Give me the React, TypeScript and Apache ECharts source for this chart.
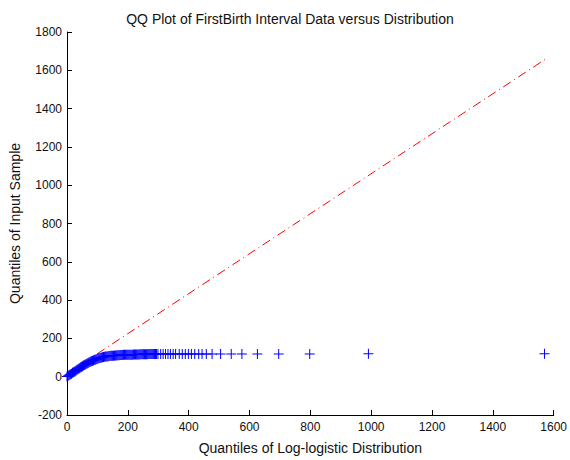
import React, { useEffect, useRef } from "react";
import * as echarts from "echarts";

const titleText = "QQ Plot of FirstBirth Interval Data versus Distribution";
const xAxisName = "Quantiles of Log-logistic Distribution";
const yAxisName = "Quantiles of Input Sample";

// Dense part of the QQ points (x: log-logistic quantiles, y: sample quantiles)
const denseX = [
  0, 3, 6, 9, 12, 15, 18, 21, 24, 27, 30, 33, 36, 39, 42, 45, 48, 51, 54, 57,
  60, 63, 66, 69, 72, 75, 78, 81, 84, 87, 90, 93, 96, 99, 102, 105, 108, 111, 114, 117,
  120, 123, 126, 129, 132, 135, 138, 141, 144, 147, 150, 153, 156, 159, 162, 165, 168, 171, 174, 177,
  180, 183, 186, 189, 192, 195, 198, 201, 204, 207, 210, 213, 216, 219, 222, 225, 228, 231, 234, 237,
  240, 243, 246, 249, 252, 255, 258, 261, 264, 267, 270, 273, 276, 279, 282, 285, 288, 291, 294,
];
const denseY = [
  1, 4, 7, 10, 13, 16, 20, 23, 26, 29, 33, 36, 39, 42, 46, 49, 52, 55, 58, 61,
  64, 66, 69, 72, 74, 77, 79, 81, 83, 85, 88, 89, 91, 93, 95, 96, 98, 99, 100, 102,
  103, 104, 105, 106, 106, 107, 108, 108, 109, 109, 110, 110, 111, 111, 111, 112, 112, 112, 113, 113,
  113, 113, 114, 114, 114, 114, 114, 115, 115, 115, 115, 115, 115, 116, 116, 116, 116, 116, 116, 116,
  117, 117, 117, 117, 117, 117, 117, 117, 117, 118, 118, 118, 118, 118, 118, 118, 118, 118, 118,
];
// Sparse upper tail
const tailX = [
  299, 308, 316, 324, 332, 340, 349, 357, 369, 379, 389, 399, 409, 420, 433, 444,
  458, 477, 505, 540, 575, 626, 696, 798, 991, 1570,
];
const tailY = [
  118, 118, 118, 118, 118, 118, 118, 118, 118, 118, 118, 118, 118, 118, 119, 119,
  119, 119, 119, 119, 119, 119, 119, 119, 120, 120,
];
// Reference line endpoints
const refX = [0, 1573];
const refY = [16, 1658];

const xTicks = { min: 0, max: 1600, interval: 200 };
const yTicks = { min: -200, max: 1800, interval: 200 };

const plusPath =
  "path://M4.5,0H5.5V4.5H10V5.5H5.5V10H4.5V5.5H0V4.5H4.5Z";

export default function App() {
  const ref = useRef<HTMLDivElement>(null);
  useEffect(() => {
    document.body.style.margin = "0";
    if (!ref.current) return;
    const chart = echarts.init(ref.current, null, { renderer: "svg" });
    const pts: number[][] = [];
    denseX.forEach((x, i) => pts.push([x, denseY[i]]));
    tailX.forEach((x, i) => pts.push([x, tailY[i]]));
    const font = "'Liberation Sans', Arial, sans-serif";
    const plain = (v: number) => String(v);
    chart.setOption({
      animation: false,
      backgroundColor: "#fff",
      textStyle: { fontFamily: font },
      title: {
        text: titleText,
        left: 285,
        top: 7,
        textAlign: "center",
        textStyle: { fontSize: 14, fontWeight: "normal", color: "#111", fontFamily: font },
      },
      grid: { left: 67, right: 15, top: 32, bottom: 44, containLabel: false },
      xAxis: {
        type: "value",
        min: xTicks.min,
        max: xTicks.max,
        interval: xTicks.interval,
        name: xAxisName,
        nameLocation: "middle",
        nameGap: 26,
        nameTextStyle: { fontSize: 14, color: "#111", fontFamily: font },
        axisLine: { onZero: false, lineStyle: { color: "#000", width: 1 } },
        axisTick: { inside: true, length: 5, lineStyle: { color: "#000" } },
        axisLabel: { fontSize: 12, color: "#111", margin: 6, fontFamily: font, formatter: plain },
        splitLine: { show: false },
      },
      yAxis: {
        type: "value",
        min: yTicks.min,
        max: yTicks.max,
        interval: yTicks.interval,
        name: yAxisName,
        nameLocation: "middle",
        nameGap: 45,
        nameTextStyle: { fontSize: 14, color: "#111", fontFamily: font },
        axisLine: { onZero: false, lineStyle: { color: "#000", width: 1 } },
        axisTick: { inside: true, length: 5, lineStyle: { color: "#000" } },
        axisLabel: { fontSize: 12, color: "#111", margin: 5, fontFamily: font, formatter: plain },
        splitLine: { show: false },
      },
      series: [
        {
          type: "line",
          data: refX.map((x, i) => [x, refY[i]]),
          symbol: "none",
          silent: true,
          lineStyle: { color: "#ff0000", width: 1, type: [9, 4, 1, 4] },
          z: 1,
        },
        {
          type: "scatter",
          data: pts,
          symbol: plusPath,
          symbolSize: 10,
          clip: false,
          itemStyle: { color: "#0000ff", opacity: 1 },
          z: 2,
        },
      ],
    });
    return () => chart.dispose();
  }, []);
  return <div ref={ref} style={{ width: 570, height: 460 }} />;
}
